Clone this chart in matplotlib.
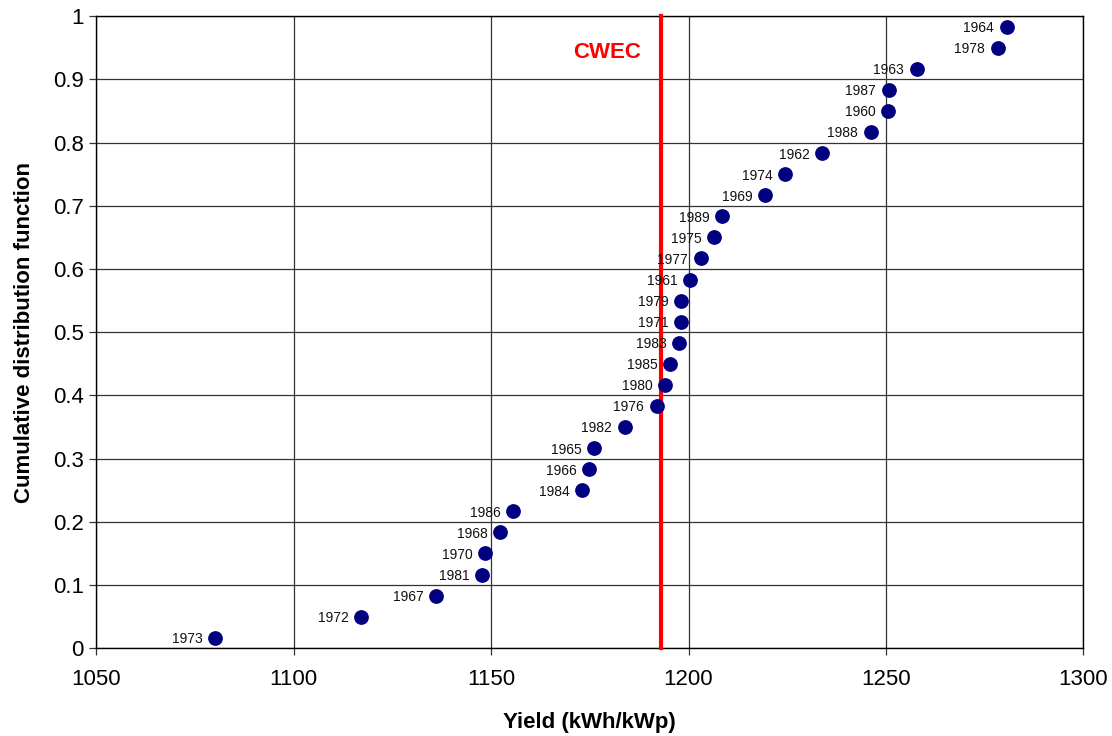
import numpy as np
import matplotlib.pyplot as plt

plt.rcParams['font.family'] = ['Liberation Sans', 'DejaVu Sans']

# years sorted by yield, with their cumulative probability
years = [1973, 1972, 1967, 1981, 1970, 1968, 1986, 1984, 1966, 1965,
         1982, 1976, 1980, 1985, 1983, 1971, 1979, 1961, 1977, 1975,
         1989, 1969, 1974, 1962, 1988, 1960, 1987, 1963, 1978, 1964]
yields = [1080.1, 1117.1, 1136.0, 1147.8, 1148.4, 1152.3, 1155.5, 1173.1, 1174.8, 1176.0,
          1183.8, 1191.9, 1194.1, 1195.4, 1197.6, 1198.1, 1198.2, 1200.4, 1203.1, 1206.5,
          1208.5, 1219.3, 1224.4, 1233.8, 1246.1, 1250.5, 1250.7, 1257.8, 1278.3, 1280.6]
cdf = (np.arange(len(years)) + 0.5) / len(years)
cwec_yield = 1193.0

fig = plt.figure(figsize=(11.12, 7.36), dpi=100)
ax = fig.add_axes([0.0866, 0.1192, 0.8876, 0.8588])

ax.set_xlim(1050, 1300)
ax.set_ylim(0, 1)
ax.set_xticks(np.arange(1050, 1301, 50))
ax.set_yticks(np.arange(0, 1.01, 0.1))
ax.set_yticklabels(['0', '0.1', '0.2', '0.3', '0.4', '0.5', '0.6', '0.7', '0.8', '0.9', '1'])
ax.grid(True, color='#333333', linewidth=0.9)
ax.set_axisbelow(True)
for s in ax.spines.values():
	s.set_color('black')
	s.set_linewidth(1.0)
ax.tick_params(axis='both', direction='out', length=5, width=0.9, labelsize=16, color='#333333')
ax.tick_params(axis='x', pad=10)
ax.tick_params(axis='y', pad=4)

ax.axvline(cwec_yield, color='#ff0000', linewidth=3, zorder=3, clip_on=False)
ax.text(1179.4, 0.943, 'CWEC', color='#ff0000', fontsize=16, fontweight='bold',
        ha='center', va='center')

ax.plot(yields, cdf, 'o', color='#000080', markersize=9.6, zorder=4, clip_on=False)
for yr, x, y in zip(years, yields, cdf):
	ax.annotate(str(yr), (x, y), xytext=(-9, -1), textcoords='offset points',
	            ha='right', va='center', fontsize=10, color='#111111', zorder=5)

ax.set_xlabel('Yield (kWh/kWp)', fontsize=16, fontweight='bold')
ax.set_ylabel('Cumulative distribution function', fontsize=16, fontweight='bold')
ax.xaxis.label.set_va('center')
ax.yaxis.label.set_va('center')
ax.xaxis.set_label_coords(0.5, -0.117)
ax.yaxis.set_label_coords(-0.073, 0.5)

fig.savefig('out.png', dpi=100)
